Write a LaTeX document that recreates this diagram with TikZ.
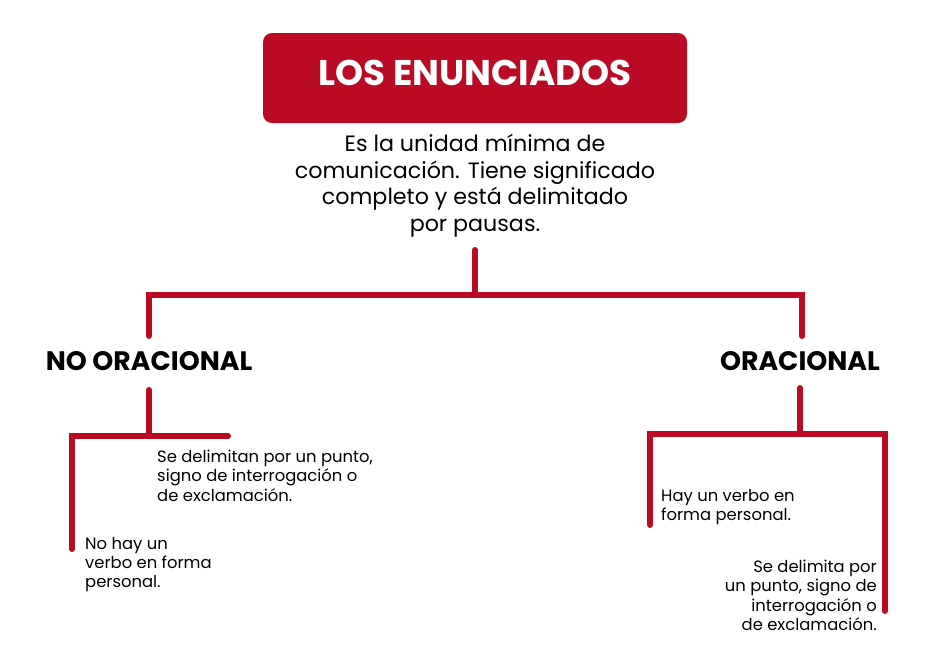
\documentclass[tikz,border=0pt]{standalone}
\usepackage{fontspec}
\setmainfont{Poppins}
\definecolor{brand}{RGB}{186,10,36}
\begin{document}
\begin{tikzpicture}[x=1pt,y=-1pt,
  link/.style={draw=brand,line width=6pt,line cap=round,line join=miter},
  heading/.style={font=\fontsize{26.7}{32}\selectfont\bfseries,text=black,inner sep=0pt},
  desc/.style={font=\fontsize{22.2}{26.6}\selectfont,align=center,inner sep=0pt},
  small/.style={font=\fontsize{16.4}{19.3}\selectfont,inner sep=0pt}]
\useasboundingbox (0,0) rectangle (952,657);
\node[fill=brand,rounded corners=9pt,minimum width=424pt,minimum height=90pt,inner sep=0pt] (title) at (475,78) {};
\node[text=white,font=\fontsize{35.7}{42}\selectfont\bfseries,inner sep=0pt] (titletext) at (475,73) {LOS ENUNCIADOS};
\node[desc,anchor=north] (descr) at (475,134) {Es la unidad mínima de\\comunicación. Tiene significado\\completo y está delimitado\\por pausas.};
\node[heading] (noor) at (149,361) {NO ORACIONAL};
\node[heading] (oracional) at (800,361) {ORACIONAL};
\node[small,align=left,anchor=north west] (t1) at (157,450) {Se delimitan por un punto,\\signo de interrogación o\\de exclamación.};
\node[small,align=left,anchor=north west] (t2) at (85,537) {No hay un\\verbo en forma\\personal.};
\node[small,align=left,anchor=north west] (t3) at (661,489) {Hay un verbo en\\forma personal.};
\node[small,align=right,anchor=north east] (t4) at (877,560) {Se delimita por\\un punto, signo de\\interrogación o\hspace*{4pt}\\de exclamación.};
% coordinates
\coordinate (a0) at (475,250);
\coordinate (a1) at (475,295);
\coordinate (aL) at (149,295);
\coordinate (aR) at (802,295);
\coordinate (aLd) at (149,336);
\coordinate (aRd) at (802,336);
\coordinate (b0) at (149,390);
\coordinate (b1) at (149,436);
\coordinate (bL) at (72,436);
\coordinate (bR) at (228,436);
\coordinate (bLd) at (72,549);
\coordinate (c0) at (800,388);
\coordinate (c1) at (800,434);
\coordinate (cL) at (650,434);
\coordinate (cR) at (885,434);
\coordinate (cLd) at (650,525);
\coordinate (cRd) at (885,611);
\draw[link] (a0) -- (a1);
\draw[link] (aLd) -- (aL) -- (aR) -- (aRd);
\draw[link] (b0) -- (b1);
\draw[link] (bLd) -- (bL) -- (bR);
\draw[link] (c0) -- (c1);
\draw[link] (cLd) -- (cL) -- (cR) -- (cRd);
\end{tikzpicture}
\end{document}
